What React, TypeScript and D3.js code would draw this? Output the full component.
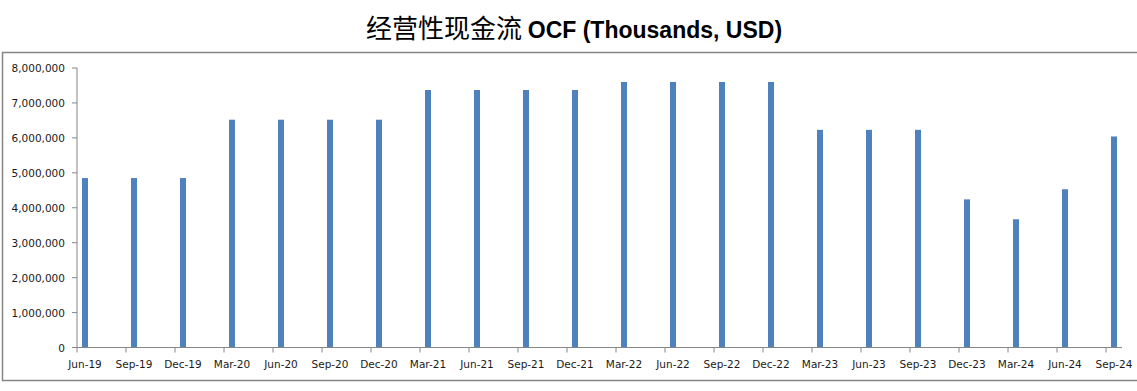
import * as d3 from "d3";

const CATEGORIES = [
  "Jun-19", "Sep-19", "Dec-19", "Mar-20", "Jun-20", "Sep-20", "Dec-20",
  "Mar-21", "Jun-21", "Sep-21", "Dec-21", "Mar-22", "Jun-22", "Sep-22",
  "Dec-22", "Mar-23", "Jun-23", "Sep-23", "Dec-23", "Mar-24", "Jun-24", "Sep-24",
];

const OCF = [
  4850000, 4850000, 4850000, 6520000, 6520000, 6520000, 6520000,
  7370000, 7370000, 7370000, 7370000, 7600000, 7600000, 7600000,
  7600000, 6230000, 6230000, 6230000, 4240000, 3670000, 4530000, 6040000,
];

const Y_TICKS = [0, 1000000, 2000000, 3000000, 4000000, 5000000, 6000000, 7000000, 8000000];

const WIDTH = 1137;
const HEIGHT = 391;
const PLOT = { left: 77, right: 1122, top: 68, bottom: 347.5 };
const BAR_COLOR = "#4f81bd";
const AXIS_COLOR = "#868686";
const LABEL_FONT = "'DejaVu Sans', Tahoma, sans-serif";

const App = () => {
  // ticks sit at each category start, bars just to the right (excel date axis look)
  const xScale = d3.scalePoint<string>().domain(CATEGORIES).range([PLOT.left, 1106]);
  const yScale = d3.scaleLinear().domain([0, 8000000]).range([PLOT.bottom, PLOT.top]);
  const fmt = d3.format(",");

  const barOffset = 5;
  const barWidth = 6;

  return (
    <svg width={WIDTH} height={HEIGHT} style={{ position: "absolute", left: 0, top: 0 }}>
      <rect x={0} y={0} width={WIDTH} height={HEIGHT} fill="#fff" />
      <text x={574} y={38} textAnchor="middle" fill="#000">
        <tspan fontFamily="'Noto Sans CJK SC', sans-serif" fontSize={26}>经营性现金流 </tspan>
        <tspan fontFamily="'Liberation Sans', Arial, sans-serif" fontSize={23} fontWeight="bold">
          OCF (Thousands, USD)
        </tspan>
      </text>

      {/* chart frame */}
      <rect x={2.5} y={52.5} width={1140} height={328} fill="none" stroke={AXIS_COLOR} strokeWidth={1.5} />

      {/* y axis */}
      <line x1={PLOT.left} x2={PLOT.left} y1={PLOT.top} y2={PLOT.bottom} stroke={AXIS_COLOR} />
      {Y_TICKS.map((v) => (
        <g key={v}>
          <line x1={PLOT.left - 5} x2={PLOT.left} y1={yScale(v)} y2={yScale(v)} stroke={AXIS_COLOR} />
          <text
            x={65}
            y={yScale(v)}
            textAnchor="end"
            dominantBaseline="central"
            fontFamily={LABEL_FONT}
            fontSize={10.5}
            fill="#1a1a1a"
          >
            {fmt(v)}
          </text>
        </g>
      ))}

      {/* bars */}
      {CATEGORIES.map((c, i) => (
        <rect
          key={c}
          x={(xScale(c) as number) + barOffset}
          y={yScale(OCF[i])}
          width={barWidth}
          height={yScale(0) - yScale(OCF[i])}
          fill={BAR_COLOR}
        />
      ))}

      {/* x axis */}
      <line x1={PLOT.left} x2={PLOT.right} y1={PLOT.bottom} y2={PLOT.bottom} stroke={AXIS_COLOR} />
      {CATEGORIES.map((c) => (
        <g key={c}>
          <line
            x1={xScale(c)}
            x2={xScale(c)}
            y1={PLOT.bottom}
            y2={PLOT.bottom + 5}
            stroke={AXIS_COLOR}
          />
          <text
            x={(xScale(c) as number) + barOffset + barWidth / 2}
            y={368}
            textAnchor="middle"
            fontFamily={LABEL_FONT}
            fontSize={10.5}
            fill="#1a1a1a"
          >
            {c}
          </text>
        </g>
      ))}
    </svg>
  );
};

export default App;
